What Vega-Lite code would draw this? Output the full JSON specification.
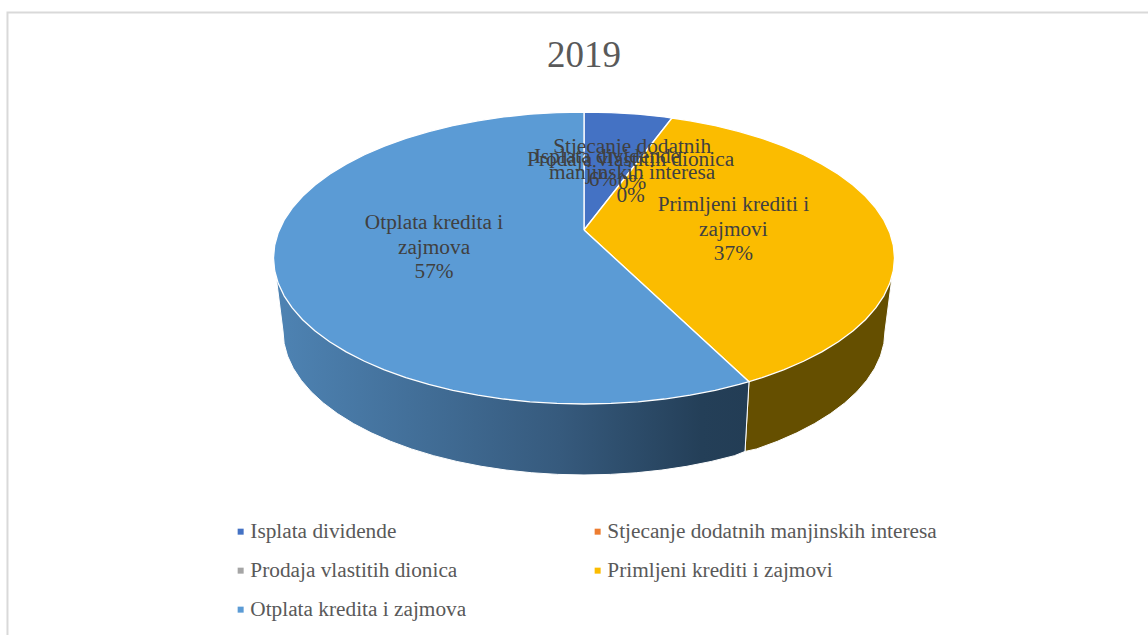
{
"$schema":"https://vega.github.io/schema/vega-lite/v6.json",
"width":1148,"height":635,"padding":0,"autosize":{"type":"none"},
"background":"white",
"title":{"text":"2019","font":"Liberation Serif","fontSize":37,"fontWeight":"normal","color":"#595959","anchor":"middle","dx":10,"offset":-75},
"config":{"view":{"stroke":null}},
"datasets":{
"frame":[{"x":-185.67,"x2":200,"y":-168.15,"y2":302}],
"labels":[
{"slice":"Otplata kredita i zajmova","text":"Otplata kredita i","x":-48.3,"y":-24},
{"slice":"Otplata kredita i zajmova","text":"zajmova","x":-48.3,"y":-6.8},
{"slice":"Otplata kredita i zajmova","text":"57%","x":-48.3,"y":9.6},
{"slice":"Primljeni krediti i zajmovi","text":"Primljeni krediti i","x":48.1,"y":-36.5},
{"slice":"Primljeni krediti i zajmovi","text":"zajmovi","x":48.1,"y":-19.5},
{"slice":"Primljeni krediti i zajmovi","text":"37%","x":48.1,"y":-3},
{"slice":"Stjecanje dodatnih manjinskih interesa","text":"Stjecanje dodatnih","x":15.5,"y":-76},
{"slice":"Stjecanje dodatnih manjinskih interesa","text":"manjinskih interesa","x":15.5,"y":-58.2},
{"slice":"Stjecanje dodatnih manjinskih interesa","text":"0%","x":15.5,"y":-51.4},
{"slice":"Prodaja vlastitih dionica","text":"Prodaja vlastitih dionica","x":15,"y":-67.1},
{"slice":"Prodaja vlastitih dionica","text":"0%","x":15,"y":-42.5},
{"slice":"Isplata dividende","text":"Isplata dividende","x":7.4,"y":-69.2},
{"slice":"Isplata dividende","text":"6%","x":6.1,"y":-53.4}
],
"sideYellow":[
{"i":0,"x":99.2,"y":13},{"i":1,"x":96.94,"y":50},{"i":2,"x":96.57,"y":58.59},{"i":3,"x":95.47,"y":67.12},{"i":4,"x":93.64,"y":75.52},{"i":5,"x":91.09,"y":83.72},{"i":6,"x":87.86,"y":91.67},{"i":7,"x":83.95,"y":99.3},{"i":8,"x":79.41,"y":106.55},{"i":9,"x":74.26,"y":113.38},{"i":10,"x":68.55,"y":119.72},{"i":11,"x":62.31,"y":125.53},{"i":12,"x":55.6,"y":130.77},{"i":13,"x":51.85,"y":132.5},{"i":14,"x":53.14,"y":84.7},{"i":15,"x":0,"y":0},{"i":16,"x":99.2,"y":13}
],
"sideBlue":[
{"i":0,"x":51.85,"y":132.5},{"i":1,"x":48.47,"y":135.39},{"i":2,"x":40.97,"y":139.36},{"i":3,"x":33.15,"y":142.65},{"i":4,"x":25.09,"y":145.24},{"i":5,"x":16.83,"y":147.1},{"i":6,"x":8.45,"y":148.22},{"i":7,"x":0,"y":148.6},{"i":8,"x":-8.45,"y":148.22},{"i":9,"x":-16.83,"y":147.1},{"i":10,"x":-25.09,"y":145.24},{"i":11,"x":-33.15,"y":142.65},{"i":12,"x":-40.97,"y":139.36},{"i":13,"x":-48.47,"y":135.39},{"i":14,"x":-55.6,"y":130.77},{"i":15,"x":-62.31,"y":125.53},{"i":16,"x":-68.55,"y":119.72},{"i":17,"x":-74.26,"y":113.38},{"i":18,"x":-79.41,"y":106.55},{"i":19,"x":-83.95,"y":99.3},{"i":20,"x":-87.86,"y":91.67},{"i":21,"x":-91.09,"y":83.72},{"i":22,"x":-93.64,"y":75.52},{"i":23,"x":-95.47,"y":67.12},{"i":24,"x":-96.57,"y":58.59},{"i":25,"x":-96.94,"y":50},{"i":26,"x":-99.2,"y":12},{"i":27,"x":0,"y":0},{"i":28,"x":53.14,"y":84.7},{"i":29,"x":51.85,"y":132.5}
],
"top":[
{"slice":"Isplata dividende","i":0,"x":0,"y":-19.18},{"slice":"Isplata dividende","i":1,"x":0,"y":-100},{"slice":"Isplata dividende","i":2,"x":8.72,"y":-99.62},{"slice":"Isplata dividende","i":3,"x":17.36,"y":-98.48},{"slice":"Isplata dividende","i":4,"x":25.88,"y":-96.59},{"slice":"Isplata dividende","i":5,"x":28.34,"y":-95.9},{"slice":"Isplata dividende","i":6,"x":0,"y":-19.18},
{"slice":"Primljeni krediti i zajmovi","i":0,"x":0,"y":-19.18},{"slice":"Primljeni krediti i zajmovi","i":1,"x":28.34,"y":-95.9},{"slice":"Primljeni krediti i zajmovi","i":2,"x":34.2,"y":-93.97},{"slice":"Primljeni krediti i zajmovi","i":3,"x":42.26,"y":-90.63},{"slice":"Primljeni krediti i zajmovi","i":4,"x":50,"y":-86.6},{"slice":"Primljeni krediti i zajmovi","i":5,"x":57.36,"y":-81.92},{"slice":"Primljeni krediti i zajmovi","i":6,"x":64.28,"y":-76.6},{"slice":"Primljeni krediti i zajmovi","i":7,"x":70.71,"y":-70.71},{"slice":"Primljeni krediti i zajmovi","i":8,"x":76.6,"y":-64.28},{"slice":"Primljeni krediti i zajmovi","i":9,"x":81.92,"y":-57.36},{"slice":"Primljeni krediti i zajmovi","i":10,"x":86.6,"y":-50},{"slice":"Primljeni krediti i zajmovi","i":11,"x":90.63,"y":-42.26},{"slice":"Primljeni krediti i zajmovi","i":12,"x":93.97,"y":-34.2},{"slice":"Primljeni krediti i zajmovi","i":13,"x":96.59,"y":-25.88},{"slice":"Primljeni krediti i zajmovi","i":14,"x":98.48,"y":-17.36},{"slice":"Primljeni krediti i zajmovi","i":15,"x":99.62,"y":-8.72},{"slice":"Primljeni krediti i zajmovi","i":16,"x":100,"y":0},{"slice":"Primljeni krediti i zajmovi","i":17,"x":99.62,"y":8.72},{"slice":"Primljeni krediti i zajmovi","i":18,"x":98.48,"y":17.36},{"slice":"Primljeni krediti i zajmovi","i":19,"x":96.59,"y":25.88},{"slice":"Primljeni krediti i zajmovi","i":20,"x":93.97,"y":34.2},{"slice":"Primljeni krediti i zajmovi","i":21,"x":90.63,"y":42.26},{"slice":"Primljeni krediti i zajmovi","i":22,"x":86.6,"y":50},{"slice":"Primljeni krediti i zajmovi","i":23,"x":81.92,"y":57.36},{"slice":"Primljeni krediti i zajmovi","i":24,"x":76.6,"y":64.28},{"slice":"Primljeni krediti i zajmovi","i":25,"x":70.71,"y":70.71},{"slice":"Primljeni krediti i zajmovi","i":26,"x":64.28,"y":76.6},{"slice":"Primljeni krediti i zajmovi","i":27,"x":57.36,"y":81.92},{"slice":"Primljeni krediti i zajmovi","i":28,"x":53.14,"y":84.7},{"slice":"Primljeni krediti i zajmovi","i":29,"x":0,"y":-19.18},
{"slice":"Otplata kredita i zajmova","i":0,"x":0,"y":-19.18},{"slice":"Otplata kredita i zajmova","i":1,"x":53.14,"y":84.7},{"slice":"Otplata kredita i zajmova","i":2,"x":50,"y":86.6},{"slice":"Otplata kredita i zajmova","i":3,"x":42.26,"y":90.63},{"slice":"Otplata kredita i zajmova","i":4,"x":34.2,"y":93.97},{"slice":"Otplata kredita i zajmova","i":5,"x":25.88,"y":96.59},{"slice":"Otplata kredita i zajmova","i":6,"x":17.36,"y":98.48},{"slice":"Otplata kredita i zajmova","i":7,"x":8.72,"y":99.62},{"slice":"Otplata kredita i zajmova","i":8,"x":0,"y":100},{"slice":"Otplata kredita i zajmova","i":9,"x":-8.72,"y":99.62},{"slice":"Otplata kredita i zajmova","i":10,"x":-17.36,"y":98.48},{"slice":"Otplata kredita i zajmova","i":11,"x":-25.88,"y":96.59},{"slice":"Otplata kredita i zajmova","i":12,"x":-34.2,"y":93.97},{"slice":"Otplata kredita i zajmova","i":13,"x":-42.26,"y":90.63},{"slice":"Otplata kredita i zajmova","i":14,"x":-50,"y":86.6},{"slice":"Otplata kredita i zajmova","i":15,"x":-57.36,"y":81.92},{"slice":"Otplata kredita i zajmova","i":16,"x":-64.28,"y":76.6},{"slice":"Otplata kredita i zajmova","i":17,"x":-70.71,"y":70.71},{"slice":"Otplata kredita i zajmova","i":18,"x":-76.6,"y":64.28},{"slice":"Otplata kredita i zajmova","i":19,"x":-81.92,"y":57.36},{"slice":"Otplata kredita i zajmova","i":20,"x":-86.6,"y":50},{"slice":"Otplata kredita i zajmova","i":21,"x":-90.63,"y":42.26},{"slice":"Otplata kredita i zajmova","i":22,"x":-93.97,"y":34.2},{"slice":"Otplata kredita i zajmova","i":23,"x":-96.59,"y":25.88},{"slice":"Otplata kredita i zajmova","i":24,"x":-98.48,"y":17.36},{"slice":"Otplata kredita i zajmova","i":25,"x":-99.62,"y":8.72},{"slice":"Otplata kredita i zajmova","i":26,"x":-100,"y":0},{"slice":"Otplata kredita i zajmova","i":27,"x":-99.62,"y":-8.72},{"slice":"Otplata kredita i zajmova","i":28,"x":-98.48,"y":-17.36},{"slice":"Otplata kredita i zajmova","i":29,"x":-96.59,"y":-25.88},{"slice":"Otplata kredita i zajmova","i":30,"x":-93.97,"y":-34.2},{"slice":"Otplata kredita i zajmova","i":31,"x":-90.63,"y":-42.26},{"slice":"Otplata kredita i zajmova","i":32,"x":-86.6,"y":-50},{"slice":"Otplata kredita i zajmova","i":33,"x":-81.92,"y":-57.36},{"slice":"Otplata kredita i zajmova","i":34,"x":-76.6,"y":-64.28},{"slice":"Otplata kredita i zajmova","i":35,"x":-70.71,"y":-70.71},{"slice":"Otplata kredita i zajmova","i":36,"x":-64.28,"y":-76.6},{"slice":"Otplata kredita i zajmova","i":37,"x":-57.36,"y":-81.92},{"slice":"Otplata kredita i zajmova","i":38,"x":-50,"y":-86.6},{"slice":"Otplata kredita i zajmova","i":39,"x":-42.26,"y":-90.63},{"slice":"Otplata kredita i zajmova","i":40,"x":-34.2,"y":-93.97},{"slice":"Otplata kredita i zajmova","i":41,"x":-25.88,"y":-96.59},{"slice":"Otplata kredita i zajmova","i":42,"x":-17.36,"y":-98.48},{"slice":"Otplata kredita i zajmova","i":43,"x":-8.72,"y":-99.62},{"slice":"Otplata kredita i zajmova","i":44,"x":0,"y":-100},{"slice":"Otplata kredita i zajmova","i":45,"x":0,"y":-19.18}
]
},
"encoding":{
"x":{"field":"x","type":"quantitative","axis":null,"scale":{"domain":[-188.08,181.64],"nice":false,"zero":false}},
"y":{"field":"y","type":"quantitative","axis":null,"scale":{"domain":[-176.71,258.22],"reverse":true,"nice":false,"zero":false}}
},
"layer":[
{"data":{"name":"frame"},"mark":{"type":"rect","fill":"transparent","stroke":"#d9d9d9","strokeWidth":2,"clip":false},"encoding":{"x2":{"field":"x2"},"y2":{"field":"y2"}}},
{"data":{"name":"sideYellow"},"mark":{"type":"line","fill":"#654f00","stroke":"#ffffff","strokeWidth":1,"strokeJoin":"round"},"encoding":{"order":{"field":"i"}}},
{"data":{"name":"sideBlue"},"mark":{"type":"line","fill":{"gradient":"linear","x1":0,"x2":1,"y1":0,"y2":0,"stops":[{"offset":0,"color":"#4e83b3"},{"offset":0.6,"color":"#365a7d"},{"offset":0.9,"color":"#243f58"},{"offset":1,"color":"#233d55"}]},"stroke":"#ffffff","strokeWidth":1,"strokeJoin":"round"},"encoding":{"order":{"field":"i"}}},
{"data":{"name":"top"},"mark":{"type":"line","stroke":"#ffffff","strokeWidth":1.3,"strokeJoin":"round"},"encoding":{
"order":{"field":"i"},"detail":{"field":"slice"},
"fill":{"field":"slice","type":"nominal","scale":{"domain":["Isplata dividende","Prodaja vlastitih dionica","Otplata kredita i zajmova","Stjecanje dodatnih manjinskih interesa","Primljeni krediti i zajmovi"],"range":["#4472c4","#a5a5a5","#5b9bd5","#ed7d31","#fbbc00"]},
"legend":{"title":null,"orient":"none","legendX":230,"legendY":521,"columns":2,"symbolType":"square","symbolSize":36,"symbolStrokeWidth":0,"labelFont":"Liberation Serif","labelFontSize":21.3,"labelColor":"#595959","labelLimit":500,"labelOffset":-1,"rowPadding":17,"columnPadding":120,"gridAlign":"each"}}}},
{"data":{"name":"labels"},"mark":{"type":"text","font":"Liberation Serif","fontSize":21.3,"color":"#404040","align":"center","baseline":"middle"},"encoding":{"text":{"field":"text"},"detail":{"field":"slice"}}}
]
}
